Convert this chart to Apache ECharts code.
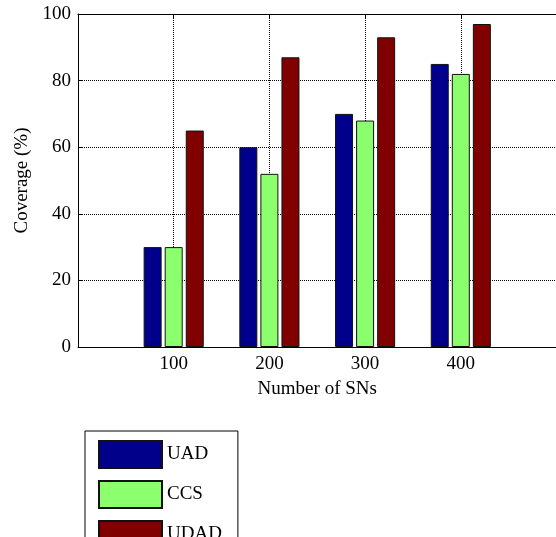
<!DOCTYPE html>
<html><head><meta charset="utf-8">
<script src="https://cdn.jsdelivr.net/npm/echarts@6/dist/echarts.min.js"></script>
<style>html,body{margin:0;padding:0;background:#fff}#c{width:556px;height:537px}</style>
</head><body><div id="c"></div>
<script>
const categories = [100, 200, 300, 400];
const uad = [30, 60, 70, 85];
const ccs = [30, 52, 68, 82];
const udad = [65, 87, 93, 97];
const yTicks = [0, 20, 40, 60, 80, 100];
const font = 'Liberation Serif';
const chart = echarts.init(document.getElementById('c'));
function mk(name, vals, color) {
  return {
    name: name, type: 'bar', barWidth: 18, barGap: '17%',
    data: categories.map((c, i) => [c, vals[i]]),
    itemStyle: { color: color, borderColor: '#111', borderWidth: 1 }
  };
}
const dot = { color: '#000', type: [1, 1], width: 1 };
chart.setOption({
  animation: false,
  grid: { left: 78, top: 14, width: 478.5, height: 333, show: false, outerBoundsMode: 'none', containLabel: false },
  xAxis: [{
    type: 'value', min: 0, max: 500, interval: 100,
    name: 'Number of SNs', nameLocation: 'middle', nameGap: 33,
    nameTextStyle: { fontFamily: font, fontSize: 19, color: '#000' },
    axisLine: { show: true, lineStyle: { color: '#000', width: 1 } },
    axisTick: { show: true, inside: true, length: 5, lineStyle: { color: '#000' } },
    axisLabel: { fontFamily: font, fontSize: 19, color: '#000', margin: 8,
      formatter: v => categories.indexOf(v) >= 0 ? String(v) : '' },
    splitLine: { show: true, lineStyle: dot }
  }, {
    type: 'value', min: 0, max: 500, interval: 100, position: 'top',
    axisLine: { show: true, onZero: false, lineStyle: { color: '#000', width: 1 } },
    axisTick: { show: true, inside: true, length: 5, lineStyle: { color: '#000' } },
    axisLabel: { show: false }, splitLine: { show: false }
  }],
  yAxis: {
    type: 'value', min: 0, max: 100, interval: 20,
    name: 'Coverage (%)', nameLocation: 'middle', nameGap: 46,
    nameTextStyle: { fontFamily: font, fontSize: 19, color: '#000' },
    axisLine: { show: true, lineStyle: { color: '#000', width: 1 } },
    axisTick: { show: true, inside: true, length: 5, lineStyle: { color: '#000' } },
    axisLabel: { fontFamily: font, fontSize: 19, color: '#000', margin: 7,
      formatter: v => yTicks.indexOf(v) >= 0 ? String(v) : '' },
    splitLine: { show: true, lineStyle: dot }
  },
  legend: {
    orient: 'vertical', left: 85, top: 431, height: 200,
    icon: 'rect',
    itemWidth: 63, itemHeight: 27, itemGap: 11,
    padding: [9, 16, 9, 13],
    borderColor: '#000', borderWidth: 1, backgroundColor: '#fff',
    textStyle: { fontFamily: font, fontSize: 19, color: '#000' },
    data: ['UAD', 'CCS', 'UDAD']
  },
  series: [mk('UAD', uad, '#00008b'), mk('CCS', ccs, '#8cff6e'), mk('UDAD', udad, '#800000')]
});
</script></body></html>
